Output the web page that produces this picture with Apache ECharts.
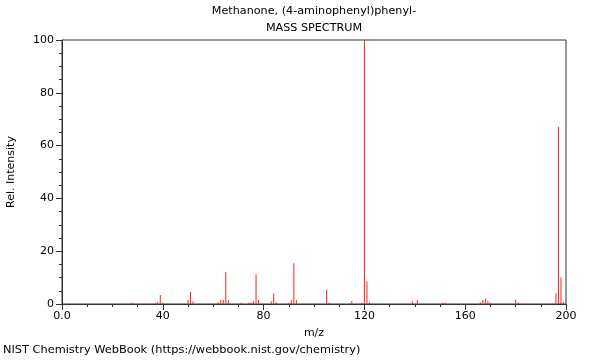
<!DOCTYPE html>
<html>
<head>
<meta charset="utf-8">
<script src="https://cdn.jsdelivr.net/npm/echarts@6/dist/echarts.min.js"></script>
<style>html,body{margin:0;padding:0;background:#fff}#c{width:600px;height:360px}</style>
</head>
<body>
<div id="c"></div>
<script>
const titleLines = ["Methanone, (4-aminophenyl)phenyl-", "MASS SPECTRUM"];
const xTicks = [0, 40, 80, 120, 160, 200];
const yTicks = [0, 20, 40, 60, 80, 100];
const mz = [27, 28, 37, 38, 39, 40, 50, 51, 52, 62, 63, 64, 65, 66, 71, 74, 75, 76, 77, 78, 83, 84, 85, 90, 91, 92, 93, 105, 106, 115, 119, 120, 121, 122, 139, 141, 151, 152, 166, 167, 168, 169, 170, 180, 181, 196, 197, 198, 199];
const intensity = [0.3, 0.5, 0.5, 0.8, 3.4, 0.5, 1.5, 4.5, 1.0, 0.7, 1.5, 1.5, 12.0, 1.5, 0.5, 0.5, 0.6, 1.0, 11.2, 1.5, 1.0, 4.0, 0.7, 0.5, 1.5, 15.4, 1.5, 5.3, 0.5, 1.1, 0.5, 100, 8.5, 0.7, 1.0, 1.5, 0.5, 0.5, 0.7, 1.5, 2.0, 1.0, 0.5, 1.5, 0.7, 4.0, 67.0, 10.0, 0.7];
const footer = "NIST Chemistry WebBook (https://webbook.nist.gov/chemistry)";

const chart = echarts.init(document.getElementById('c'), null, {renderer: 'canvas'});
const font = 'DejaVu Sans';
const ts = {fontSize: 11.2, fontWeight: 'normal', color: '#000', fontFamily: font};
chart.setOption({
  animation: false,
  textStyle: {fontFamily: font},
  title: [
    {text: titleLines[0], left: 314, top: 6, padding: 0, textAlign: 'center', textStyle: ts},
    {text: titleLines[1], left: 314, top: 23, padding: 0, textAlign: 'center', textStyle: ts},
    {text: footer, left: 3, top: 345, padding: 0, textStyle: Object.assign({}, ts, {fontSize: 11.35})}
  ],
  grid: {left: 62, right: 34, top: 40, bottom: 56, outerBoundsMode: 'none', containLabel: false,
         show: true, borderColor: '#333', borderWidth: 1, backgroundColor: 'transparent'},
  xAxis: {
    type: 'value', min: xTicks[0], max: xTicks[xTicks.length - 1], interval: 40,
    name: 'm/z', nameLocation: 'middle', nameGap: 24,
    nameTextStyle: {fontSize: 11, color: '#000', fontFamily: font},
    axisLine: {show: true, lineStyle: {color: '#333', width: 1}},
    axisTick: {show: true, length: 6, lineStyle: {color: '#333'}},
    minorTick: {show: true, splitNumber: 4, length: 3, lineStyle: {color: '#333'}},
    splitLine: {show: false},
    axisLabel: {fontSize: 11, color: '#000', margin: 7, fontFamily: font,
      formatter: v => v === 0 ? '0.0' : String(v)}
  },
  yAxis: {
    type: 'value', min: yTicks[0], max: yTicks[yTicks.length - 1], interval: 20,
    name: 'Rel. Intensity', nameLocation: 'middle', nameGap: 45, nameRotate: 90,
    nameTextStyle: {fontSize: 11, color: '#000', fontFamily: font},
    axisLine: {show: true, lineStyle: {color: '#333', width: 1}},
    axisTick: {show: true, length: 6, lineStyle: {color: '#333'}},
    minorTick: {show: true, splitNumber: 4, length: 3, lineStyle: {color: '#333'}},
    splitLine: {show: false},
    axisLabel: {fontSize: 11, color: '#000', margin: 8, fontFamily: font}
  },
  series: [{
    type: 'bar',
    barWidth: 1,
    itemStyle: {color: '#ff2020'},
    data: mz.map((m, i) => [m, intensity[i]])
  }]
});
</script>
</body>
</html>
